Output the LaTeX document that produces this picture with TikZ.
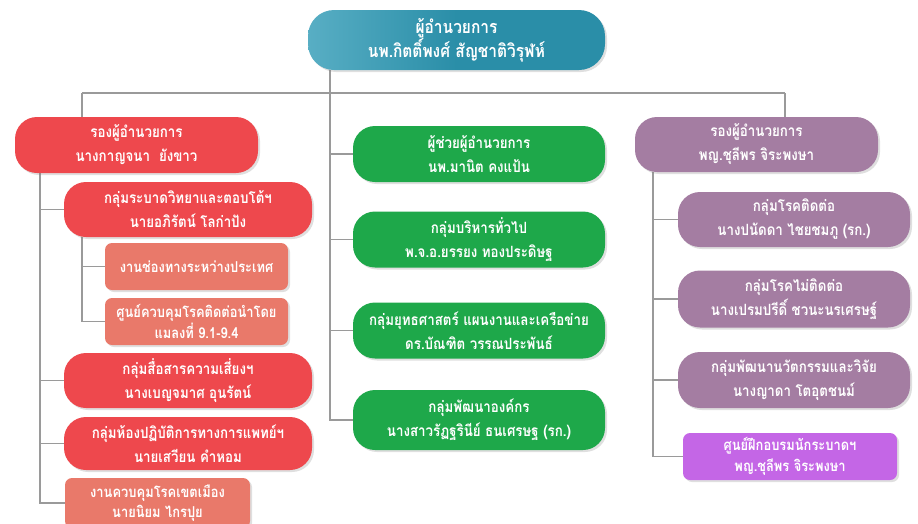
\documentclass[tikz,border=0pt]{standalone}
\usepackage{fontspec}
\setmainfont[Script=Thai,FakeStretch=0.86]{Loma}
\usetikzlibrary{shadows,backgrounds}
\definecolor{tealA}{HTML}{2A8EA8}
\definecolor{tealL}{HTML}{58AEC4}
\definecolor{redA}{HTML}{EE484D}
\definecolor{salA}{HTML}{E9796A}
\definecolor{greenA}{HTML}{1EA84A}
\definecolor{purpA}{HTML}{A47DA2}
\definecolor{magA}{HTML}{C466E6}
\definecolor{lineC}{HTML}{9A9A9A}
\tikzset{
  base/.style={text=white, font=\fontsize{15.5}{24}\selectfont\bfseries, align=center, inner sep=0pt,
    drop shadow={opacity=0.25, shadow xshift=2pt, shadow yshift=-2pt}},
  pill/.style={base, rounded corners=22pt},
  sbox/.style={base, rounded corners=7pt, font=\fontsize{15}{21}\selectfont\bfseries},
  topbox/.style={pill, left color=tealL, right color=tealA, middle color=tealA, rounded corners=26pt, minimum width=297pt, minimum height=60pt, font=\fontsize{18}{24}\selectfont\bfseries},
  redbox/.style={pill, fill=redA},
  salbox/.style={sbox, fill=salA},
  greenbox/.style={pill, fill=greenA, minimum width=252pt, minimum height=56pt},
  purpbox/.style={pill, fill=purpA},
  magbox/.style={sbox, fill=magA},
  conn/.style={draw=lineC, line width=1.3pt}
}
\begin{document}
\begin{tikzpicture}[x=1pt,y=-1pt]
\useasboundingbox (0,0) rectangle (918,523);
% top
\node[topbox] (top) at (456.5,40) {ผู้อำนวยการ\\นพ.กิตติ์พงศ์ สัญชาติวิรุฬห์};
% left column
\node[redbox, minimum width=243pt, minimum height=56pt] (r0) at (136.5,145) {รองผู้อำนวยการ\\นางกาญจนา~~ยังขาว};
\node[redbox, minimum width=248pt, minimum height=55pt] (r1) at (188,209.5) {กลุ่มระบาดวิทยาและตอบโต้ฯ\\นายอภิรัตน์ โลก่าปัง};
\node[salbox, minimum width=183pt, minimum height=47pt] (s1) at (196.5,266.5) {งานช่องทางระหว่างประเทศ};
\node[salbox, minimum width=183pt, minimum height=47pt] (s2) at (196.5,321.5) {ศูนย์ควบคุมโรคติดต่อนำโดย\\แมลงที่ 9.1-9.4};
\node[redbox, minimum width=248pt, minimum height=55pt] (r2) at (188,380.5) {กลุ่มสื่อสารความเสี่ยงฯ\\นางเบญจมาศ อุนรัตน์};
\node[redbox, minimum width=248pt, minimum height=53pt] (r3) at (188,443.5) {กลุ่มห้องปฏิบัติการทางการแพทย์ฯ\\นายเสวียน คำหอม};
\node[salbox, minimum width=185pt, minimum height=50pt, font=\fontsize{15}{20}\selectfont\bfseries] (s3) at (157.5,503) {งานควบคุมโรคเขตเมือง\\นายนิยม ไกรปุย};
% middle column
\node[greenbox] (g1) at (479,154) {ผู้ช่วยผู้อำนวยการ\\นพ.มานิต คงแป้น};
\node[greenbox] (g2) at (479,239.5) {กลุ่มบริหารทั่วไป\\พ.จ.อ.ยรรยง ทองประดิษฐ};
\node[greenbox] (g3) at (479,330.5) {กลุ่มยุทธศาสตร์ แผนงานและเครือข่าย\\ดร.บัณฑิต วรรณประพันธ์};
\node[greenbox, minimum height=60pt] (g4) at (479,420) {กลุ่มพัฒนาองค์กร\\นางสาวรัฏฐรินีย์ ธนเศรษฐ (รก.)};
% right column
\node[purpbox, minimum width=243pt, minimum height=55pt] (p0) at (756.5,144.5) {รองผู้อำนวยการ\\พญ.ชุลีพร จิระพงษา};
\node[purpbox, minimum width=232pt, minimum height=55pt] (p1) at (794,219.5) {กลุ่มโรคติดต่อ\\นางปนัดดา ไชยชมภู (รก.)};
\node[purpbox, minimum width=232pt, minimum height=57pt] (p2) at (794,299) {กลุ่มโรคไม่ติดต่อ\\นางเปรมปรีดิ์ ชวนะนรเศรษฐ์};
\node[purpbox, minimum width=232pt, minimum height=56pt] (p3) at (794,380) {กลุ่มพัฒนานวัตกรรมและวิจัย\\นางญาดา โตอุตชนม์};
\node[magbox, minimum width=214pt, minimum height=47pt] (m1) at (790,456.5) {ศูนย์ฝึกอบรมนักระบาดฯ\\พญ.ชุลีพร จิระพงษา};
% connector anchors
\coordinate (hl) at (82,93);
\coordinate (hr) at (785,93);
\coordinate (mv) at (330,93);
\coordinate (lv) at (40,145);
\coordinate (lv2) at (82,209.5);
\coordinate (rv) at (653,144.5);
\begin{scope}[on background layer]
% top connectors
\draw[conn] (hl) -- (hr);
\draw[conn] (hl) -- (hl |- r0.north);
\draw[conn] (hr) -- (hr |- p0.north);
\draw[conn] (mv |- top.south) |- (g4.west);
\draw[conn] (mv |- g1.west) -- (g1.west);
\draw[conn] (mv |- g2.west) -- (g2.west);
\draw[conn] (mv |- g3.west) -- (g3.west);
% left connectors
\draw[conn] (lv |- r0.south) |- (s3.west);
\draw[conn] (lv |- r1.west) -- (r1.west);
\draw[conn] (lv |- r2.west) -- (r2.west);
\draw[conn] (lv |- r3.west) -- (r3.west);
\draw[conn] (lv2 |- r1.south) |- (s2.west);
\draw[conn] (lv2 |- s1.west) -- (s1.west);
% right connectors
\draw[conn] (rv |- p0.south) |- (m1.west);
\draw[conn] (rv |- p1.west) -- (p1.west);
\draw[conn] (rv |- p2.west) -- (p2.west);
\draw[conn] (rv |- p3.west) -- (p3.west);
\end{scope}
\end{tikzpicture}
\end{document}
